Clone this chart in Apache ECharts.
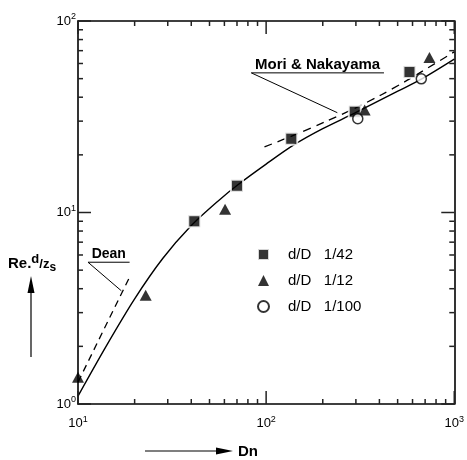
<!DOCTYPE html>
<html>
<head>
<meta charset="utf-8">
<script src="https://cdn.jsdelivr.net/npm/echarts@6/dist/echarts.min.js"></script>
<style>
  html, body { margin: 0; padding: 0; background: #fff; }
  #chart { width: 467px; height: 460px; }
</style>
</head>
<body>
<div id="chart"></div>
<script>
// Measured points, Dn vs Re·d/z_s
const ratio42 = [[41.5, 9.0], [70, 13.8], [136, 24.3], [296, 33.6], [578, 54.2]];
const ratio12 = [[10, 1.38], [22.9, 3.7], [60.5, 10.4], [334, 34.3], [738, 64.5]];
const ratio100 = [[307, 30.9], [668, 49.9]];

// Correlation curves
const presentCurve = [[10, 1.10], [14.1, 2.0], [20, 3.54], [28.2, 5.75], [39.8, 8.5], [56.2, 11.6],
                      [70.8, 13.96], [100, 17.9], [141, 22.6], [200, 27.4], [295, 33.0],
                      [501, 43.0], [676, 50.0], [1000, 63.2]];
const moriCurve = [[98, 22], [147, 25.8], [205, 29.7], [296, 35.0], [408, 41.1], [552, 48.5], [1000, 69]];
const deanCurve = [[10, 1.3], [18.6, 4.5]];

// Annotation leaders: underline end, underline start, pointer tip
const deanLeader = [[18.8, 5.5], [11.3, 5.5], [17.0, 3.9]];
const moriLeader = [[423, 53.6], [83.4, 53.6], [239, 33.2]];

// Axis ranges and tick positions (decades with 2..9 subdivisions)
const xRange = [10, 1000];
const yRange = [1, 100];
const xTickValues = [10, 20, 30, 40, 50, 60, 70, 80, 90,
                     100, 200, 300, 400, 500, 600, 700, 800, 900, 1000];
const yTickValues = [1, 2, 3, 4, 5, 6, 7, 8, 9,
                     10, 20, 30, 40, 50, 60, 70, 80, 90, 100];
const legendNames = ['d/D   1/42', 'd/D   1/12', 'd/D   1/100'];

const FONT = '"Liberation Sans", Arial, sans-serif';
const TICK_COLOR = '#222';

function isDecade(v) {
  const e = Math.log10(v);
  return Math.abs(e - Math.round(e)) < 1e-9;
}
function powerLabel(v) {
  return '{b|10}{s|' + Math.round(Math.log10(v)) + '}';
}
const powerRich = {
  b: { fontSize: 13, color: '#000', fontFamily: FONT },
  s: { fontSize: 9, color: '#000', fontFamily: FONT, padding: [0, 0, 8, 0] }
};

function logAxis(range, pos, showLabel, margin) {
  return {
    type: 'log', logBase: 10, min: range[0], max: range[1], position: pos,
    axisLine: { show: true, lineStyle: { color: '#000', width: 1.6 } },
    axisTick: { show: false },
    minorTick: { show: false },
    splitLine: { show: false },
    axisLabel: { show: showLabel, margin: margin, formatter: powerLabel, rich: powerRich }
  };
}

const chart = echarts.init(document.getElementById('chart'));

chart.setOption({
  backgroundColor: '#fff',
  animation: false,
  grid: { left: 78, right: 9, top: 21, bottom: 56 },
  xAxis: [logAxis(xRange, 'bottom', true, 11), logAxis(xRange, 'top', false, 0)],
  yAxis: [logAxis(yRange, 'left', true, 2), logAxis(yRange, 'right', false, 0)],
  legend: {
    data: legendNames,
    orient: 'vertical',
    left: 252, top: 242,
    itemWidth: 11, itemHeight: 11, itemGap: 11,
    textStyle: { fontSize: 15, color: '#000', fontFamily: FONT, padding: [0, 0, 0, 14] },
    selectedMode: false
  },
  series: [
    {
      type: 'line', data: presentCurve, smooth: 0.3, symbol: 'none', silent: true,
      lineStyle: { color: '#000', width: 1.4 }, z: 2
    },
    {
      type: 'line', data: moriCurve, smooth: 0.3, symbol: 'none', silent: true,
      lineStyle: { color: '#000', width: 1.3, type: [8, 6] }, z: 2
    },
    {
      type: 'line', data: deanCurve, symbol: 'none', silent: true,
      lineStyle: { color: '#000', width: 1.3, type: [7, 5] }, z: 2
    },
    {
      type: 'line', data: deanLeader, symbol: 'none', silent: true,
      lineStyle: { color: '#000', width: 1 }, z: 2
    },
    {
      type: 'line', data: moriLeader, symbol: 'none', silent: true,
      lineStyle: { color: '#000', width: 1 }, z: 2
    },
    {
      name: legendNames[0], type: 'scatter', data: ratio42, symbol: 'rect', symbolSize: 12,
      clip: false, itemStyle: { color: '#000', borderColor: '#fff', borderWidth: 2 }, z: 4
    },
    {
      name: legendNames[1], type: 'scatter', data: ratio12, symbol: 'triangle', symbolSize: [12, 11],
      clip: false, itemStyle: { color: '#000' }, z: 4
    },
    {
      name: legendNames[2], type: 'scatter', data: ratio100, symbol: 'circle', symbolSize: 10,
      clip: false, itemStyle: { color: '#fff', borderColor: '#000', borderWidth: 1.5 }, z: 4
    }
  ]
});

function px(p) { return chart.convertToPixel({ gridIndex: 0 }, p); }

// Inward tick marks on all four sides of the frame, positioned by the axis scales
const elements = [];
function tick(x1, y1, x2, y2) {
  elements.push({
    type: 'line', z: 50,
    shape: { x1: x1, y1: y1, x2: x2, y2: y2 },
    style: { stroke: TICK_COLOR, lineWidth: 1.5 }
  });
}
xTickValues.forEach(v => {
  const len = isDecade(v) ? 13 : 5;
  const b = px([v, yRange[0]]), t = px([v, yRange[1]]);
  tick(b[0], b[1], b[0], b[1] - len);
  tick(t[0], t[1], t[0], t[1] + len);
});
yTickValues.forEach(v => {
  const len = isDecade(v) ? 13 : 5;
  const l = px([xRange[0], v]), r = px([xRange[1], v]);
  tick(l[0], l[1], l[0] + len, l[1]);
  tick(r[0], r[1], r[0] - len, r[1]);
});

// Text annotations above each leader's underline
const dA = px(deanLeader[1]), dB = px(deanLeader[0]);
const mA = px(moriLeader[1]), mB = px(moriLeader[0]);
elements.push(
  {
    type: 'text', x: (dA[0] + dB[0]) / 2, y: dA[1] - 1,
    style: { text: 'Dean', fontSize: 14, fontWeight: 'bold', fontFamily: FONT, fill: '#000',
             align: 'center', verticalAlign: 'bottom' }
  },
  {
    type: 'text', x: (mA[0] + mB[0]) / 2, y: mA[1] - 1,
    style: { text: 'Mori & Nakayama', fontSize: 15, fontWeight: 'bold', fontFamily: FONT, fill: '#000',
             align: 'center', verticalAlign: 'bottom' }
  },
  // y-axis title with arrow
  {
    type: 'text', x: 8, y: 264,
    style: {
      text: '{r|Re.}{d|d}{z|/z}{s|s}',
      verticalAlign: 'middle',
      rich: {
        r: { fontSize: 15, fontWeight: 'bold', fontFamily: FONT, fill: '#000' },
        d: { fontSize: 13, fontWeight: 'bold', fontFamily: FONT, fill: '#000', padding: [0, 0, 10, 0] },
        z: { fontSize: 13, fontWeight: 'bold', fontFamily: FONT, fill: '#000' },
        s: { fontSize: 12, fontWeight: 'bold', fontFamily: FONT, fill: '#000', padding: [8, 0, 0, 0] }
      }
    }
  },
  { type: 'line', shape: { x1: 31, y1: 357, x2: 31, y2: 290 }, style: { stroke: '#000', lineWidth: 1.2 } },
  { type: 'polygon', shape: { points: [[31, 276], [27.5, 293], [34.5, 293]] }, style: { fill: '#000' } },
  // x-axis title with arrow
  { type: 'line', shape: { x1: 145, y1: 451, x2: 220, y2: 451 }, style: { stroke: '#000', lineWidth: 1.2 } },
  { type: 'polygon', shape: { points: [[233, 451], [216, 447.5], [216, 454.5]] }, style: { fill: '#000' } },
  {
    type: 'text', x: 238, y: 452,
    style: { text: 'Dn', fontSize: 15, fontWeight: 'bold', fontFamily: FONT, fill: '#000', verticalAlign: 'middle' }
  }
);

chart.setOption({ graphic: elements });
</script>
</body>
</html>
